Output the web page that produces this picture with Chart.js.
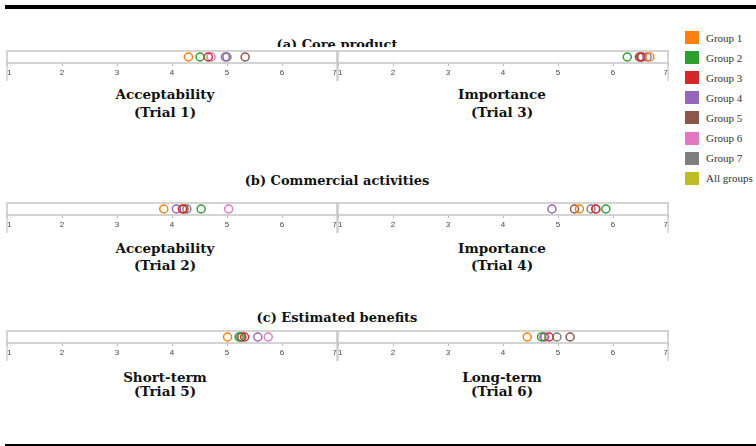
<!DOCTYPE html>
<html><head><meta charset="utf-8">
<script src="https://cdn.jsdelivr.net/npm/chart.js@4"></script>
<style>
html,body{margin:0;padding:0;background:#fff;}
body{width:756px;height:446px;position:relative;overflow:hidden;}
.t{position:absolute;font-family:"DejaVu Serif";font-weight:bold;color:#111;white-space:nowrap;text-align:center;line-height:16px;width:300px;z-index:1;}
.title{font-size:13px;}
.lab{font-size:13.5px;}
canvas{position:absolute;z-index:2;}
.sw{position:absolute;width:14px;height:13px;}
.lg{position:absolute;font-family:"Liberation Serif";font-size:11px;color:#333;line-height:14px;white-space:nowrap;}
.rule{position:absolute;background:#000;left:5px;width:751px;}
</style></head>
<body>
<div class="rule" style="top:5px;height:4px"></div>
<div class="rule" style="top:444px;height:1.5px"></div>
<script>
const groups = ['Group 1','Group 2','Group 3','Group 4','Group 5','Group 6','Group 7','All groups'];
const colors = ['#ff7f0e','#2ca02c','#d62728','#9467bd','#8c564b','#e377c2','#7f7f7f','#bcbd22'];
const sectionTitles = ['(a) Core product','(b) Commercial activities','(c) Estimated benefits'];
const panelLabels = [['Acceptability','(Trial 1)'],['Importance','(Trial 3)'],['Acceptability','(Trial 2)'],['Importance','(Trial 4)'],['Short-term','(Trial 5)'],['Long-term','(Trial 6)']];
const xTicks = [1,2,3,4,5,6,7];
// mean ratings per group (Group 1..7, All groups)
const trial1 = [4.30, 4.51, 4.66, 4.97, 5.33, 4.71, 5.00, null];
const trial3 = [6.67, 6.26, 6.52, 6.62, 6.48, 6.52, 6.50, null];
const trial2 = [3.85, 4.53, 4.19, 4.08, 4.22, 5.03, 4.27, null];
const trial4 = [5.39, 5.87, 5.69, 4.89, 5.30, 5.68, 5.60, null];
const trial5 = [5.01, 5.22, 5.32, 5.56, 5.27, 5.75, 5.25, null];
const trial6 = [4.44, 4.70, 4.84, 4.76, 5.22, 4.74, 4.98, null];
const panelValues = [trial1, trial3, trial2, trial4, trial5, trial6];

// layout
const boxTops = [51, 203, 331];
const panelLefts = [7, 338];
const panelW = 330, boxH = 12, padTop = 6, padSide = 2, axisH = 22;
const titleTops = [36.5, 173, 309.5];
const labelBaselines = [[98.5,116.3],[252.3,270],[381.6,396]];
const labelCenters = [165, 502];

const boxPlugin = {
  id:'box',
  beforeDraw(chart){
    const {ctx, chartArea:a} = chart;
    ctx.save();
    ctx.fillStyle = '#fff';
    ctx.fillRect(a.left, a.top-4, a.right-a.left, a.bottom-a.top+4);
    ctx.restore();
  },
  beforeDatasetsDraw(chart){
    const {ctx, chartArea:a} = chart;
    ctx.save();
    ctx.strokeStyle = '#c6c6c6';
    ctx.lineWidth = 1.5;
    ctx.strokeRect(a.left, a.top, a.right-a.left, a.bottom-a.top);
    ctx.lineWidth = 1.2;
    ctx.beginPath();
    ctx.moveTo(a.left, a.bottom); ctx.lineTo(a.left, a.bottom+18);
    ctx.moveTo(a.right, a.bottom); ctx.lineTo(a.right, a.bottom+18);
    ctx.stroke();
    ctx.restore();
  }
};

function addText(cls, txt, left, top){
  const d = document.createElement('div');
  d.className = 't ' + cls;
  d.textContent = txt;
  d.style.left = (left-150)+'px';
  d.style.top = top+'px';
  document.body.appendChild(d);
}

sectionTitles.forEach((s,r)=>addText('title', s, 337, titleTops[r]));

for (let r=0;r<3;r++){
  for (let c=0;c<2;c++){
    const p = r*2+c;
    const vals = panelValues[p];
    const cv = document.createElement('canvas');
    cv.width = panelW + 2*padSide;
    cv.height = padTop + boxH + axisH;
    cv.style.left = (panelLefts[c]-padSide)+'px';
    cv.style.top = (boxTops[r]-padTop)+'px';
    document.body.appendChild(cv);
    new Chart(cv, {
      type:'scatter',
      data:{datasets: groups.map((g,i)=>({
        label:g,
        data: vals[i]==null ? [] : [{x:vals[i], y:0.5}],
        borderColor:colors[i], backgroundColor:'rgba(0,0,0,0)',
        pointRadius:4, pointHoverRadius:4, pointBorderWidth:1.5
      }))},
      options:{
        responsive:false, animation:false, events:[],
        layout:{autoPadding:false, padding:{left:padSide,right:padSide,top:padTop,bottom:0}},
        plugins:{legend:{display:false}, tooltip:{enabled:false}},
        scales:{
          x:{type:'linear', min:xTicks[0], max:xTicks[xTicks.length-1],
             afterFit:s=>{s.height=axisH;},
             afterBuildTicks:s=>{s.ticks = xTicks.map(v=>({value:v}));},
             ticks:{align:'inner', padding:2, maxRotation:0, autoSkip:false,
                    font:{family:'Liberation Sans', size:8}, color:'#444'},
             grid:{drawOnChartArea:false, drawTicks:true, tickLength:3, color:'#bbb'},
             border:{display:false}},
          y:{display:false, min:0, max:1}
        }
      },
      plugins:[boxPlugin]
    });
    const lb = labelBaselines[r];
    addText('lab', panelLabels[p][0], labelCenters[c], lb[0]-12.7);
    addText('lab', panelLabels[p][1], labelCenters[c], lb[1]-12.7);
  }
}

// legend
groups.forEach((g,i)=>{
  const y = 31 + i*20.1;
  const s = document.createElement('div');
  s.className='sw'; s.style.left='685px'; s.style.top=y+'px'; s.style.background=colors[i];
  document.body.appendChild(s);
  const t = document.createElement('div');
  t.className='lg'; t.style.left='706px'; t.style.top=(y-0.5)+'px'; t.textContent=g;
  document.body.appendChild(t);
});
</script>
</body></html>
